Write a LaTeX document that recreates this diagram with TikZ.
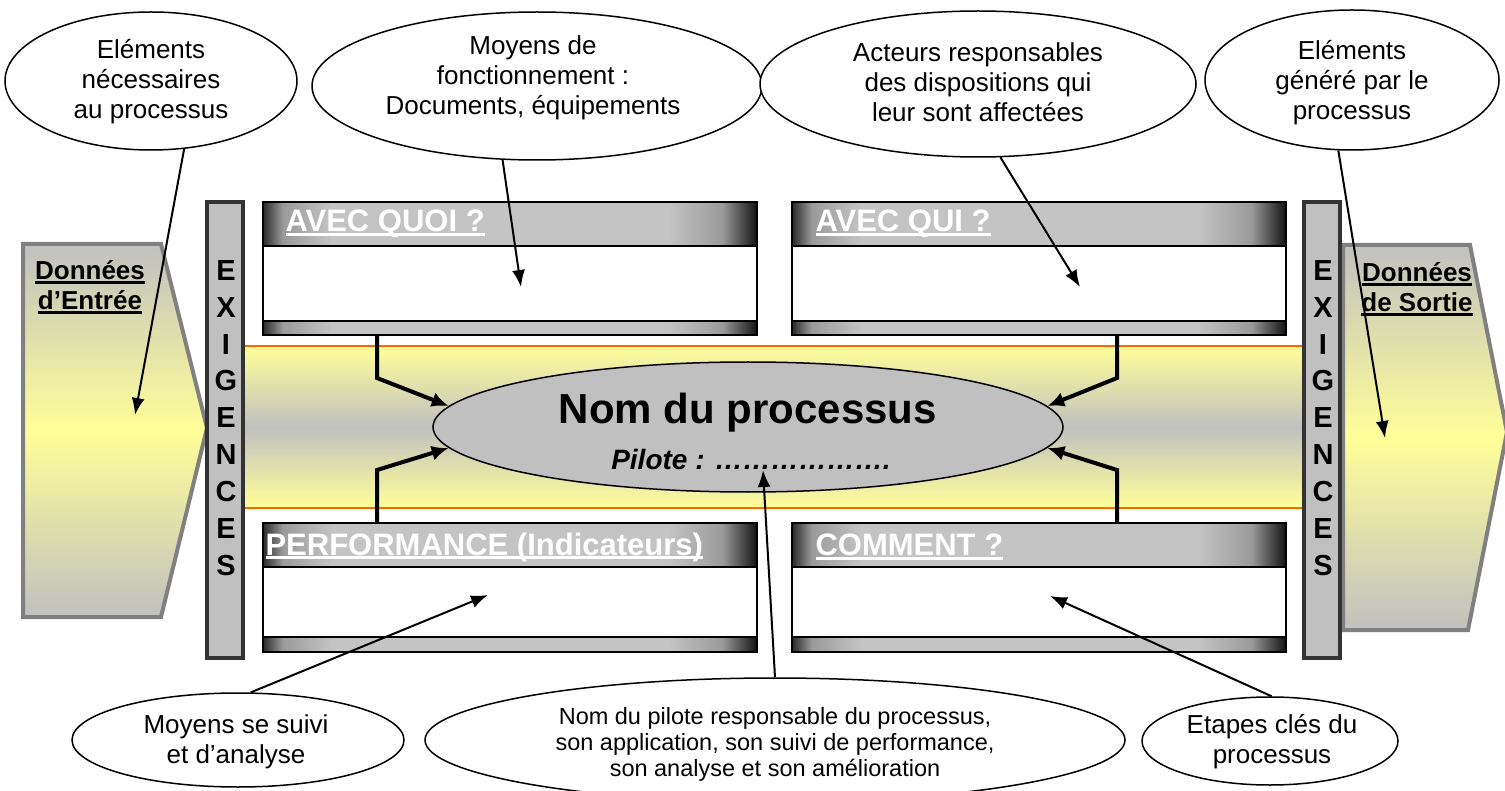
\documentclass[tikz,border=0pt]{standalone}
\usepackage{fontspec}
\setmainfont{Liberation Sans}
\usetikzlibrary{shapes.geometric,arrows.meta}
\definecolor{yel}{HTML}{FFFF99}
\definecolor{midg}{HTML}{C0C0C0}
\definecolor{shapeedge}{HTML}{808080}
\definecolor{bardark}{HTML}{333333}
\definecolor{orng}{HTML}{FF6600}
\definecolor{hdA}{HTML}{2A2A2A}
\definecolor{hdB}{HTML}{9A9A9A}
\definecolor{hdC}{HTML}{C4C4C4}
\definecolor{hdD}{HTML}{111111}
\pgfdeclarehorizontalshading{hdr}{100bp}{color(0bp)=(hdA); color(25bp)=(hdA); color(27bp)=(hdB); color(32bp)=(hdC); color(66bp)=(hdC); color(71.5bp)=(hdB); color(75bp)=(hdD); color(100bp)=(hdD)}
\newcommand{\myul}[2][2.5pt]{\setbox0\hbox{#2}\rlap{\rule[-4pt]{\wd0}{#1}}\box0}
\tikzset{
  bub/.style={ellipse, draw, line width=1.5, fill=white, inner sep=0},
  txt/.style={align=center, font=\fontsize{26}{30}\selectfont},
  hdrbox/.style={shading=hdr, draw, line width=1.5, minimum width=494, minimum height=44, inner sep=0},
  bodybox/.style={draw, line width=1.5, fill=white, minimum width=494, inner sep=0},
  barbox/.style={shading=hdr, draw, line width=1.2, minimum width=494, minimum height=14, inner sep=0},
  title/.style={anchor=west, text=white, font=\bfseries\fontsize{31}{36}\selectfont},
  exig/.style={draw=bardark, line width=4, fill=midg, minimum width=36, minimum height=456, inner sep=0},
  exigtxt/.style={align=center, font=\bfseries\fontsize{29}{36.9}\selectfont},
  fat/.style={line width=4, -{Latex[length=17,width=15]}},
  thin/.style={line width=2, -{Latex[length=17,width=13]}},
}
\begin{document}
\begin{tikzpicture}[x=1pt,y=-1pt]
\useasboundingbox (0,0) rectangle (1505,791);
% central band
\shade[top color=yel, bottom color=yel, middle color=midg] (245,346) rectangle (1302,508);
\draw[orng, line width=2] (245,346) -- (1302,346);
\draw[orng, line width=2] (245,508) -- (1302,508);
% input shape
\shade[draw=shapeedge, line width=4, top color=midg, bottom color=midg, middle color=yel]
  (23,244) -- (161,244) -- (207,428) -- (161,617) -- (23,617) -- cycle;
\node[align=center, font=\bfseries\fontsize{26}{30}\selectfont] (din) at (90,287) {\myul{Données}\\\myul{d’Entrée}};
\coordinate (tin) at (135,415);
% output shape
\shade[draw=shapeedge, line width=4, top color=midg, bottom color=midg, middle color=yel]
  (1343,245) -- (1470,245) -- (1507,432) -- (1468,630) -- (1343,630) -- cycle;
\node[align=center, font=\bfseries\fontsize{26}{30}\selectfont] (dout) at (1417,289) {\myul{Données}\\\myul{de Sortie}};
\coordinate (tout) at (1385,438);
% exigences bars
\node[exig] (xl) at (225,430) {};
\node[exigtxt] (xlt) at (226,418) {E\\X\\I\\G\\E\\N\\C\\E\\S};
\node[exig] (xr) at (1322,430) {};
\node[exigtxt] (xrt) at (1323,418) {E\\X\\I\\G\\E\\N\\C\\E\\S};
% box 1 AVEC QUOI
\node[hdrbox] (h1) at (510,224) {};
\node[bodybox, minimum height=75] (b1) at (510,283.5) {};
\node[barbox] (r1) at (510,328) {};
\node[title] (t1) at (282,224) {\myul[3pt]{AVEC QUOI ?}};
\coordinate (a1) at (521,287);
% box 2 AVEC QUI
\node[hdrbox] (h2) at (1039,224) {};
\node[bodybox, minimum height=75] (b2) at (1039,283.5) {};
\node[barbox] (r2) at (1039,328) {};
\node[title] (t2) at (812,224) {\myul[3pt]{AVEC QUI ?}};
\coordinate (a2) at (1080,287);
% box 3 PERFORMANCE
\node[hdrbox] (h3) at (510,545) {};
\node[bodybox, minimum height=70] (b3) at (510,602) {};
\node[barbox, minimum height=15] (r3) at (510,644.5) {};
\node[title] (t3) at (262,547) {\myul[3pt]{PERFORMANCE (Indicateurs)}};
\coordinate (a3) at (488,595);
% box 4 COMMENT
\node[hdrbox] (h4) at (1039,545) {};
\node[bodybox, minimum height=70] (b4) at (1039,602) {};
\node[barbox, minimum height=15] (r4) at (1039,644.5) {};
\node[title] (t4) at (812,547) {\myul[3pt]{COMMENT ?}};
\coordinate (a4) at (1050,596);
% central ellipse
\node[ellipse, draw, line width=1.5, fill=midg, minimum width=630, minimum height=130, inner sep=0] (main) at (748,427) {};
\node[font=\bfseries\fontsize{42}{46}\selectfont] (mt) at (748,413) {Nom du processus};
\node[font=\bfseries\itshape\fontsize{28}{32}\selectfont] (mp) at (751,459) {Pilote : ……………….};
\coordinate (ap) at (763,470);
% thick bent arrows
\coordinate (k1) at (377,378);
\coordinate (k2) at (1117,378);
\coordinate (k3) at (377,470);
\coordinate (k4) at (1117,470);
\draw[fat] (r1.south -| k1) -- (k1) -- (main.176);
\draw[fat] (r2.south -| k2) -- (k2) -- (main.4.5);
\draw[fat] (h3.north -| k3) -- (k3) -- (main.184.5);
\draw[fat] (h4.north -| k4) -- (k4) -- (main.-4.5);
% top ellipses
\node[bub, minimum width=292, minimum height=138] (e1) at (151,81) {};
\node[txt] (e1t) at (151,82) {Eléments\\nécessaires\\au processus};
\node[bub, minimum width=450, minimum height=148] (e2) at (537,86) {};
\node[txt] (e2t) at (533,78) {Moyens de\\fonctionnement :\\Documents, équipements};
\node[bub, minimum width=436, minimum height=146] (e3) at (978,84) {};
\node[txt] (e3t) at (978,82) {Acteurs responsables\\des dispositions qui\\leur sont affectées};
\node[bub, minimum width=294, minimum height=140] (e4) at (1352,80) {};
\node[txt] (e4t) at (1352,83) {Eléments\\généré par le\\processus};
% bottom ellipses
\node[bub, minimum width=332, minimum height=94] (eA) at (238,740) {};
\node[txt] (eAt) at (236,742) {Moyens se suivi\\et d’analyse};
\node[bub, minimum width=700, minimum height=124] (eB) at (775,740) {};
\node[txt, font=\fontsize{23.5}{26}\selectfont] (eBt) at (775,744) {Nom du pilote responsable du processus,\\son application, son suivi de performance,\\son analyse et son amélioration};
\node[bub, minimum width=256, minimum height=88] (eC) at (1270,741) {};
\node[txt] (eCt) at (1272,742) {Etapes clés du\\processus};
% pointer arrows
\draw[thin] (e1.-64.5) -- (tin);
\draw[thin] (e2.-115) -- (a1);
\draw[thin] (e3.-73) -- (a2);
\draw[thin] (e4.-101) -- (tout);
\draw[thin] (eA.75) -- (a3);
\draw[thin] (eB.90) -- (ap);
\draw[thin] (eC.88) -- (a4);
\end{tikzpicture}
\end{document}
